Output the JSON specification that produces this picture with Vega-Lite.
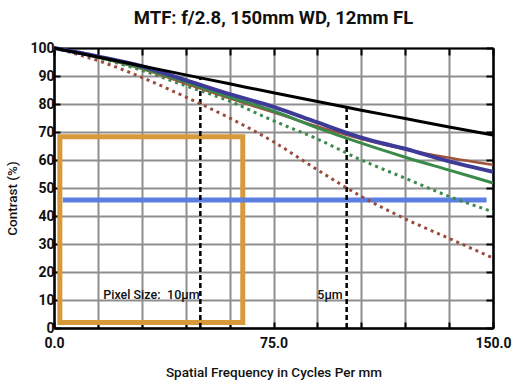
{
  "$schema": "https://vega.github.io/schema/vega-lite/v6.json",
  "width": 439,
  "height": 280,
  "autosize": {"type": "none"},
  "padding": {"left": 54, "top": 48, "right": 21, "bottom": 59},
  "background": "white",
  "title": {
    "text": "MTF: f/2.8, 150mm WD, 12mm FL",
    "font": "Roboto",
    "fontSize": 18.5,
    "fontWeight": "bold",
    "color": "#111111",
    "anchor": "middle",
    "offset": 13
  },
  "config": {
    "view": {"stroke": null},
    "axis": {
      "domainColor": "#000000",
      "domainWidth": 2.5,
      "tickColor": "#000000",
      "tickWidth": 2,
      "gridColor": "#8f8f8f",
      "gridWidth": 2,
      "labelFont": "Roboto",
      "labelFontSize": 14,
      "labelFontWeight": "bold",
      "labelColor": "#111111",
      "titleFont": "Roboto",
      "titleFontSize": 13.5,
      "titleFontWeight": 500,
      "titleColor": "#111111"
    }
  },
  "datasets": {
    "curves": [
      {"s": "diff", "x": 0, "y": 100}, {"s": "diff", "x": 15, "y": 96.8}, {"s": "diff", "x": 30, "y": 93.6}, {"s": "diff", "x": 45, "y": 90.4}, {"s": "diff", "x": 60, "y": 87.2}, {"s": "diff", "x": 75, "y": 84.0}, {"s": "diff", "x": 90, "y": 80.9}, {"s": "diff", "x": 105, "y": 77.8}, {"s": "diff", "x": 120, "y": 74.8}, {"s": "diff", "x": 135, "y": 71.8}, {"s": "diff", "x": 150, "y": 68.9},
      {"s": "axis", "x": 0, "y": 100}, {"s": "axis", "x": 15, "y": 97}, {"s": "axis", "x": 30, "y": 93.5}, {"s": "axis", "x": 45, "y": 88.5}, {"s": "axis", "x": 60, "y": 83.5}, {"s": "axis", "x": 75, "y": 79}, {"s": "axis", "x": 90, "y": 73.4}, {"s": "axis", "x": 105, "y": 68}, {"s": "axis", "x": 120, "y": 64}, {"s": "axis", "x": 135, "y": 59.5}, {"s": "axis", "x": 150, "y": 55.8},
      {"s": "mid_t", "x": 0, "y": 100}, {"s": "mid_t", "x": 15, "y": 96.8}, {"s": "mid_t", "x": 30, "y": 92.8}, {"s": "mid_t", "x": 45, "y": 87.8}, {"s": "mid_t", "x": 60, "y": 82.5}, {"s": "mid_t", "x": 75, "y": 77.5}, {"s": "mid_t", "x": 90, "y": 71.5}, {"s": "mid_t", "x": 105, "y": 66}, {"s": "mid_t", "x": 120, "y": 61}, {"s": "mid_t", "x": 135, "y": 56.4}, {"s": "mid_t", "x": 150, "y": 51.8},
      {"s": "mid_s", "x": 0, "y": 100}, {"s": "mid_s", "x": 15, "y": 96.5}, {"s": "mid_s", "x": 30, "y": 92}, {"s": "mid_s", "x": 45, "y": 86.5}, {"s": "mid_s", "x": 60, "y": 81}, {"s": "mid_s", "x": 75, "y": 74}, {"s": "mid_s", "x": 90, "y": 67.5}, {"s": "mid_s", "x": 105, "y": 60}, {"s": "mid_s", "x": 120, "y": 53.5}, {"s": "mid_s", "x": 135, "y": 47}, {"s": "mid_s", "x": 150, "y": 41.5},
      {"s": "full_t", "x": 0, "y": 100}, {"s": "full_t", "x": 15, "y": 96.7}, {"s": "full_t", "x": 30, "y": 92.6}, {"s": "full_t", "x": 45, "y": 87.3}, {"s": "full_t", "x": 60, "y": 82}, {"s": "full_t", "x": 75, "y": 77}, {"s": "full_t", "x": 90, "y": 72}, {"s": "full_t", "x": 105, "y": 67.5}, {"s": "full_t", "x": 120, "y": 63.8}, {"s": "full_t", "x": 135, "y": 60.8}, {"s": "full_t", "x": 150, "y": 58.3}
    ],
    "curves2": [
      {"s": "full_s", "x": 0, "y": 100}, {"s": "full_s", "x": 15, "y": 95.5}, {"s": "full_s", "x": 30, "y": 89.5}, {"s": "full_s", "x": 45, "y": 82.5}, {"s": "full_s", "x": 60, "y": 75}, {"s": "full_s", "x": 75, "y": 66.5}, {"s": "full_s", "x": 90, "y": 56.5}, {"s": "full_s", "x": 105, "y": 47}, {"s": "full_s", "x": 120, "y": 39}, {"s": "full_s", "x": 135, "y": 32}, {"s": "full_s", "x": 150, "y": 25}
    ]
  },
  "layer": [
    {
      "data": {"values": [{"x": 0, "y": 0}]},
      "mark": {"type": "point", "opacity": 0},
      "encoding": {
        "x": {"field": "x", "type": "quantitative", "scale": {"domain": [0, 150], "nice": false, "zero": false},
          "axis": {"orient": "bottom", "values": [0, 15, 30, 45, 60, 75, 90, 105, 120, 135, 150], "labelExpr": "datum.value % 75 === 0 ? format(datum.value, '.1f') : ''", "tickSize": -6, "labelPadding": 14, "title": "Spatial Frequency in Cycles Per mm", "titlePadding": 15, "labelFlush": false}},
        "y": {"field": "y", "type": "quantitative", "scale": {"domain": [0, 100], "nice": false},
          "axis": {"orient": "left", "values": [0, 10, 20, 30, 40, 50, 60, 70, 80, 90, 100], "tickSize": -6, "labelPadding": 6, "title": "Contrast (%)", "titleX": -42, "titleY": 150, "titleAlign": "center", "titleBaseline": "middle"}}
      }
    },
    {
      "data": {"values": [{"x": 0, "y": 0}]},
      "mark": {"type": "point", "opacity": 0},
      "encoding": {
        "x": {"field": "x", "type": "quantitative",
          "axis": {"orient": "top", "values": [0, 15, 30, 45, 60, 75, 90, 105, 120, 135, 150], "labels": false, "tickSize": -7, "grid": false, "title": null, "domainWidth": 2}},
        "y": {"field": "y", "type": "quantitative",
          "axis": {"orient": "right", "values": [0, 10, 20, 30, 40, 50, 60, 70, 80, 90, 100], "labels": false, "tickSize": -7, "grid": false, "title": null, "domainWidth": 2.5}}
      }
    },
    {
      "data": {"values": [{"x1": 2, "x2": 64.5, "y1": 2, "y2": 68.3}]},
      "mark": {"type": "rect", "fill": null, "filled": false, "stroke": "#D8993A", "strokeWidth": 5},
      "encoding": {
        "x": {"field": "x1", "type": "quantitative", "axis": null}, "x2": {"field": "x2"},
        "y": {"field": "y1", "type": "quantitative", "axis": null}, "y2": {"field": "y2"}
      }
    },
    {
      "data": {"values": [{"x1": 3, "x2": 147.8, "y": 45.7}]},
      "mark": {"type": "rule", "stroke": "#5B80E2", "strokeWidth": 5},
      "encoding": {
        "x": {"field": "x1", "type": "quantitative", "axis": null}, "x2": {"field": "x2"},
        "y": {"field": "y", "type": "quantitative", "axis": null}
      }
    },
    {
      "data": {"values": [{"x": 50, "y1": 0, "y2": 89.6}, {"x": 100, "y1": 0, "y2": 79}]},
      "mark": {"type": "rule", "stroke": "#000000", "strokeWidth": 2.5, "strokeDash": [5, 3]},
      "encoding": {
        "x": {"field": "x", "type": "quantitative", "axis": null},
        "y": {"field": "y1", "type": "quantitative", "axis": null}, "y2": {"field": "y2"}
      }
    },
    {
      "data": {"values": [{"x": 26.6, "y": 11.8, "t": "Pixel Size:"}, {"x": 44.2, "y": 11.8, "t": "10µm"}, {"x": 94.3, "y": 11.8, "t": "5µm"}]},
      "mark": {"type": "text", "font": "Roboto", "fontSize": 12.5, "fontWeight": 500, "color": "#111111", "align": "center", "baseline": "middle"},
      "encoding": {
        "x": {"field": "x", "type": "quantitative", "axis": null},
        "y": {"field": "y", "type": "quantitative", "axis": null},
        "text": {"field": "t"}
      }
    },
    {
      "data": {"name": "curves2"},
      "mark": {"type": "line", "interpolate": "monotone", "stroke": "#9A4B3C", "strokeWidth": 3, "strokeDash": [3, 4]},
      "encoding": {"x": {"field": "x", "type": "quantitative", "axis": null}, "y": {"field": "y", "type": "quantitative", "axis": null}}
    },
    {
      "data": {"name": "curves"},
      "transform": [{"filter": "datum.s === 'mid_s'"}],
      "mark": {"type": "line", "interpolate": "monotone", "stroke": "#3A8A4A", "strokeWidth": 3, "strokeDash": [3, 4]},
      "encoding": {"x": {"field": "x", "type": "quantitative", "axis": null}, "y": {"field": "y", "type": "quantitative", "axis": null}}
    },
    {
      "data": {"name": "curves"},
      "transform": [{"filter": "datum.s === 'full_t'"}],
      "mark": {"type": "line", "interpolate": "monotone", "stroke": "#A0523C", "strokeWidth": 2.5},
      "encoding": {"x": {"field": "x", "type": "quantitative", "axis": null}, "y": {"field": "y", "type": "quantitative", "axis": null}}
    },
    {
      "data": {"name": "curves"},
      "transform": [{"filter": "datum.s === 'mid_t'"}],
      "mark": {"type": "line", "interpolate": "monotone", "stroke": "#3A8A4A", "strokeWidth": 3},
      "encoding": {"x": {"field": "x", "type": "quantitative", "axis": null}, "y": {"field": "y", "type": "quantitative", "axis": null}}
    },
    {
      "data": {"name": "curves"},
      "transform": [{"filter": "datum.s === 'axis'"}],
      "mark": {"type": "line", "interpolate": "monotone", "stroke": "#3D3A98", "strokeWidth": 4},
      "encoding": {"x": {"field": "x", "type": "quantitative", "axis": null}, "y": {"field": "y", "type": "quantitative", "axis": null}}
    },
    {
      "data": {"name": "curves"},
      "transform": [{"filter": "datum.s === 'diff'"}],
      "mark": {"type": "line", "interpolate": "monotone", "stroke": "#000000", "strokeWidth": 3},
      "encoding": {"x": {"field": "x", "type": "quantitative", "axis": null}, "y": {"field": "y", "type": "quantitative", "axis": null}}
    }
  ],
  "resolve": {"axis": {"x": "independent", "y": "independent"}}
}
